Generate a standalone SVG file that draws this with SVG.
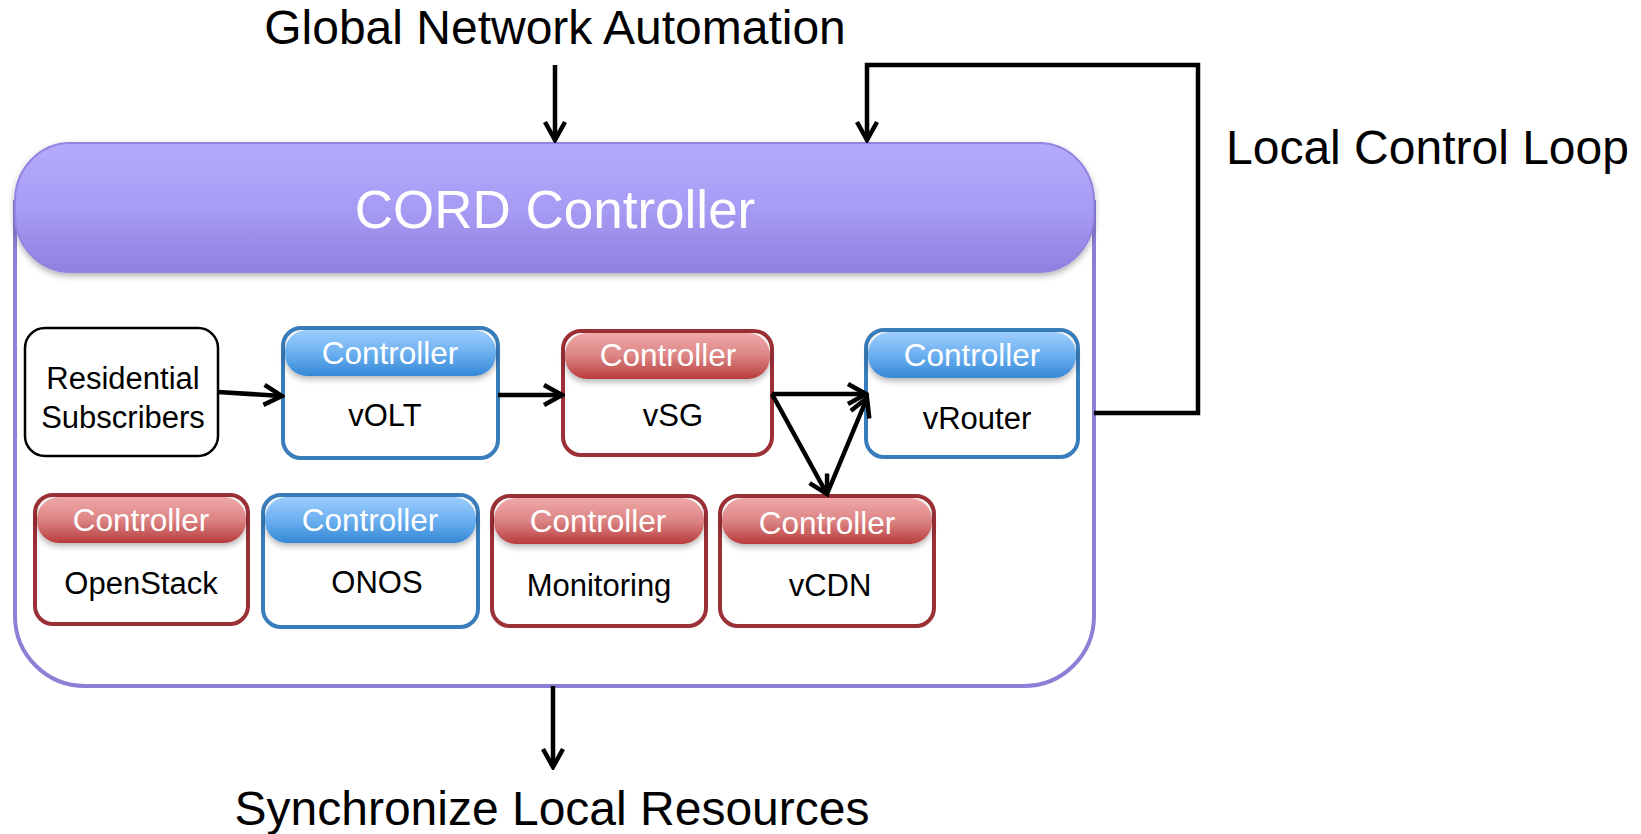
<svg xmlns="http://www.w3.org/2000/svg" width="1641" height="834" viewBox="0 0 1641 834">
<defs>
<linearGradient id="gPurple" x1="0" y1="0" x2="0" y2="1"><stop offset="0" stop-color="#b4aafd"/><stop offset="0.5" stop-color="#a79cf4"/><stop offset="1" stop-color="#8e80e0"/></linearGradient>
<linearGradient id="gRed" x1="0" y1="0" x2="0" y2="1"><stop offset="0" stop-color="#f0a8a8"/><stop offset="0.5" stop-color="#dc8484"/><stop offset="1" stop-color="#b83c3c"/></linearGradient>
<linearGradient id="gBlue" x1="0" y1="0" x2="0" y2="1"><stop offset="0" stop-color="#9ccdfd"/><stop offset="0.5" stop-color="#6cb0f0"/><stop offset="1" stop-color="#3488d6"/></linearGradient>
<filter id="sh" x="-10%" y="-20%" width="120%" height="160%"><feDropShadow dx="0" dy="3" stdDeviation="3" flood-color="#000" flood-opacity="0.3"/></filter>
<marker id="ah2" markerWidth="24" markerHeight="24" viewBox="0 0 24 24" refX="21" refY="12" orient="auto" markerUnits="userSpaceOnUse"><path d="M3,2 L21,12 L3,22" fill="none" stroke="#000" stroke-width="4.5"/></marker>
</defs>
<style>
text{font-family:"Liberation Sans",Arial,sans-serif}
.big{font-size:48px;fill:#000}
.ctl{font-size:31.5px;fill:#fff;text-anchor:middle}
.nm{font-size:31px;fill:#000;text-anchor:middle}
.red{fill:#fff;stroke:#9b3036;stroke-width:4}
.blue{fill:#fff;stroke:#3a7dbc;stroke-width:4}
.hr{fill:url(#gRed);filter:url(#sh)}
.hb{fill:url(#gBlue);filter:url(#sh)}
.ln{fill:none;stroke:#000;stroke-width:4.5}
</style>
<rect width="1641" height="834" fill="#fff"/>

<g id="labels">
<text class="big" x="555" y="44" text-anchor="middle">Global Network Automation</text>
<text class="big" x="1226" y="164">Local Control Loop</text>
<text class="big" x="552" y="825" text-anchor="middle">Synchronize Local Resources</text>
</g>

<g id="cord">
<path d="M15,200 L15,616 A70,70 0 0 0 85,686 L1024,686 A70,70 0 0 0 1094,616 L1094,200" fill="#fff" stroke="#8c80d6" stroke-width="4"/>
<rect x="15" y="143" width="1079" height="129" rx="55" ry="58" fill="url(#gPurple)" stroke="#9284e0" stroke-width="2" filter="url(#sh)"/>
<text x="555" y="228" text-anchor="middle" style="font-size:53px;fill:#fff">CORD Controller</text>
</g>

<g id="residential">
<rect x="25" y="328" width="193" height="128" rx="20" fill="#fff" stroke="#000" stroke-width="2.5"/>
<text class="nm" x="123" y="389">Residential</text>
<text class="nm" x="123" y="428">Subscribers</text>
</g>

<g id="volt">
<rect class="blue" x="283" y="328" width="215" height="130" rx="18"/>
<rect class="hb" x="285" y="330" width="211" height="46" rx="22"/>
<text class="ctl" x="390" y="364">Controller</text>
<text class="nm" x="385" y="426">vOLT</text>
</g>

<g id="vsg">
<rect class="red" x="563" y="331" width="209" height="124" rx="18"/>
<rect class="hr" x="565" y="333" width="205" height="46" rx="22"/>
<text class="ctl" x="668" y="366">Controller</text>
<text class="nm" x="673" y="426">vSG</text>
</g>

<g id="vrouter">
<rect class="blue" x="866" y="330" width="212" height="127" rx="18"/>
<rect class="hb" x="868" y="332" width="208" height="46" rx="22"/>
<text class="ctl" x="972" y="366">Controller</text>
<text class="nm" x="977" y="429">vRouter</text>
</g>

<g id="openstack">
<rect class="red" x="35" y="495" width="213" height="129" rx="18"/>
<rect class="hr" x="37" y="497" width="209" height="46" rx="22"/>
<text class="ctl" x="141" y="531">Controller</text>
<text class="nm" x="141" y="594">OpenStack</text>
</g>

<g id="onos">
<rect class="blue" x="263" y="495" width="215" height="132" rx="18"/>
<rect class="hb" x="265" y="497" width="211" height="46" rx="22"/>
<text class="ctl" x="370" y="531">Controller</text>
<text class="nm" x="377" y="593">ONOS</text>
</g>

<g id="monitoring">
<rect class="red" x="492" y="496" width="214" height="130" rx="18"/>
<rect class="hr" x="494" y="498" width="210" height="46" rx="22"/>
<text class="ctl" x="598" y="532">Controller</text>
<text class="nm" x="599" y="596">Monitoring</text>
</g>

<g id="vcdn">
<rect class="red" x="720" y="496" width="214" height="130" rx="18"/>
<rect class="hr" x="722" y="498" width="210" height="46" rx="22"/>
<text class="ctl" x="827" y="534">Controller</text>
<text class="nm" x="830" y="596">vCDN</text>
</g>

<g id="connectors">
<line class="ln" x1="555" y1="65" x2="555" y2="140" marker-end="url(#ah2)"/>
<line class="ln" x1="553" y1="686" x2="553" y2="767" marker-end="url(#ah2)"/>
<path class="ln" d="M1094,413 L1198,413 L1198,65 L867,65 L867,140" marker-end="url(#ah2)"/>
<line class="ln" x1="218" y1="392" x2="282" y2="396" marker-end="url(#ah2)"/>
<line class="ln" x1="498" y1="395" x2="562" y2="395" marker-end="url(#ah2)"/>
<line class="ln" x1="772" y1="394" x2="866" y2="394" marker-end="url(#ah2)"/>
<line class="ln" x1="772" y1="394" x2="827" y2="494" marker-end="url(#ah2)"/>
<line class="ln" x1="827" y1="494" x2="867" y2="398" marker-end="url(#ah2)"/>
</g>
</svg>
